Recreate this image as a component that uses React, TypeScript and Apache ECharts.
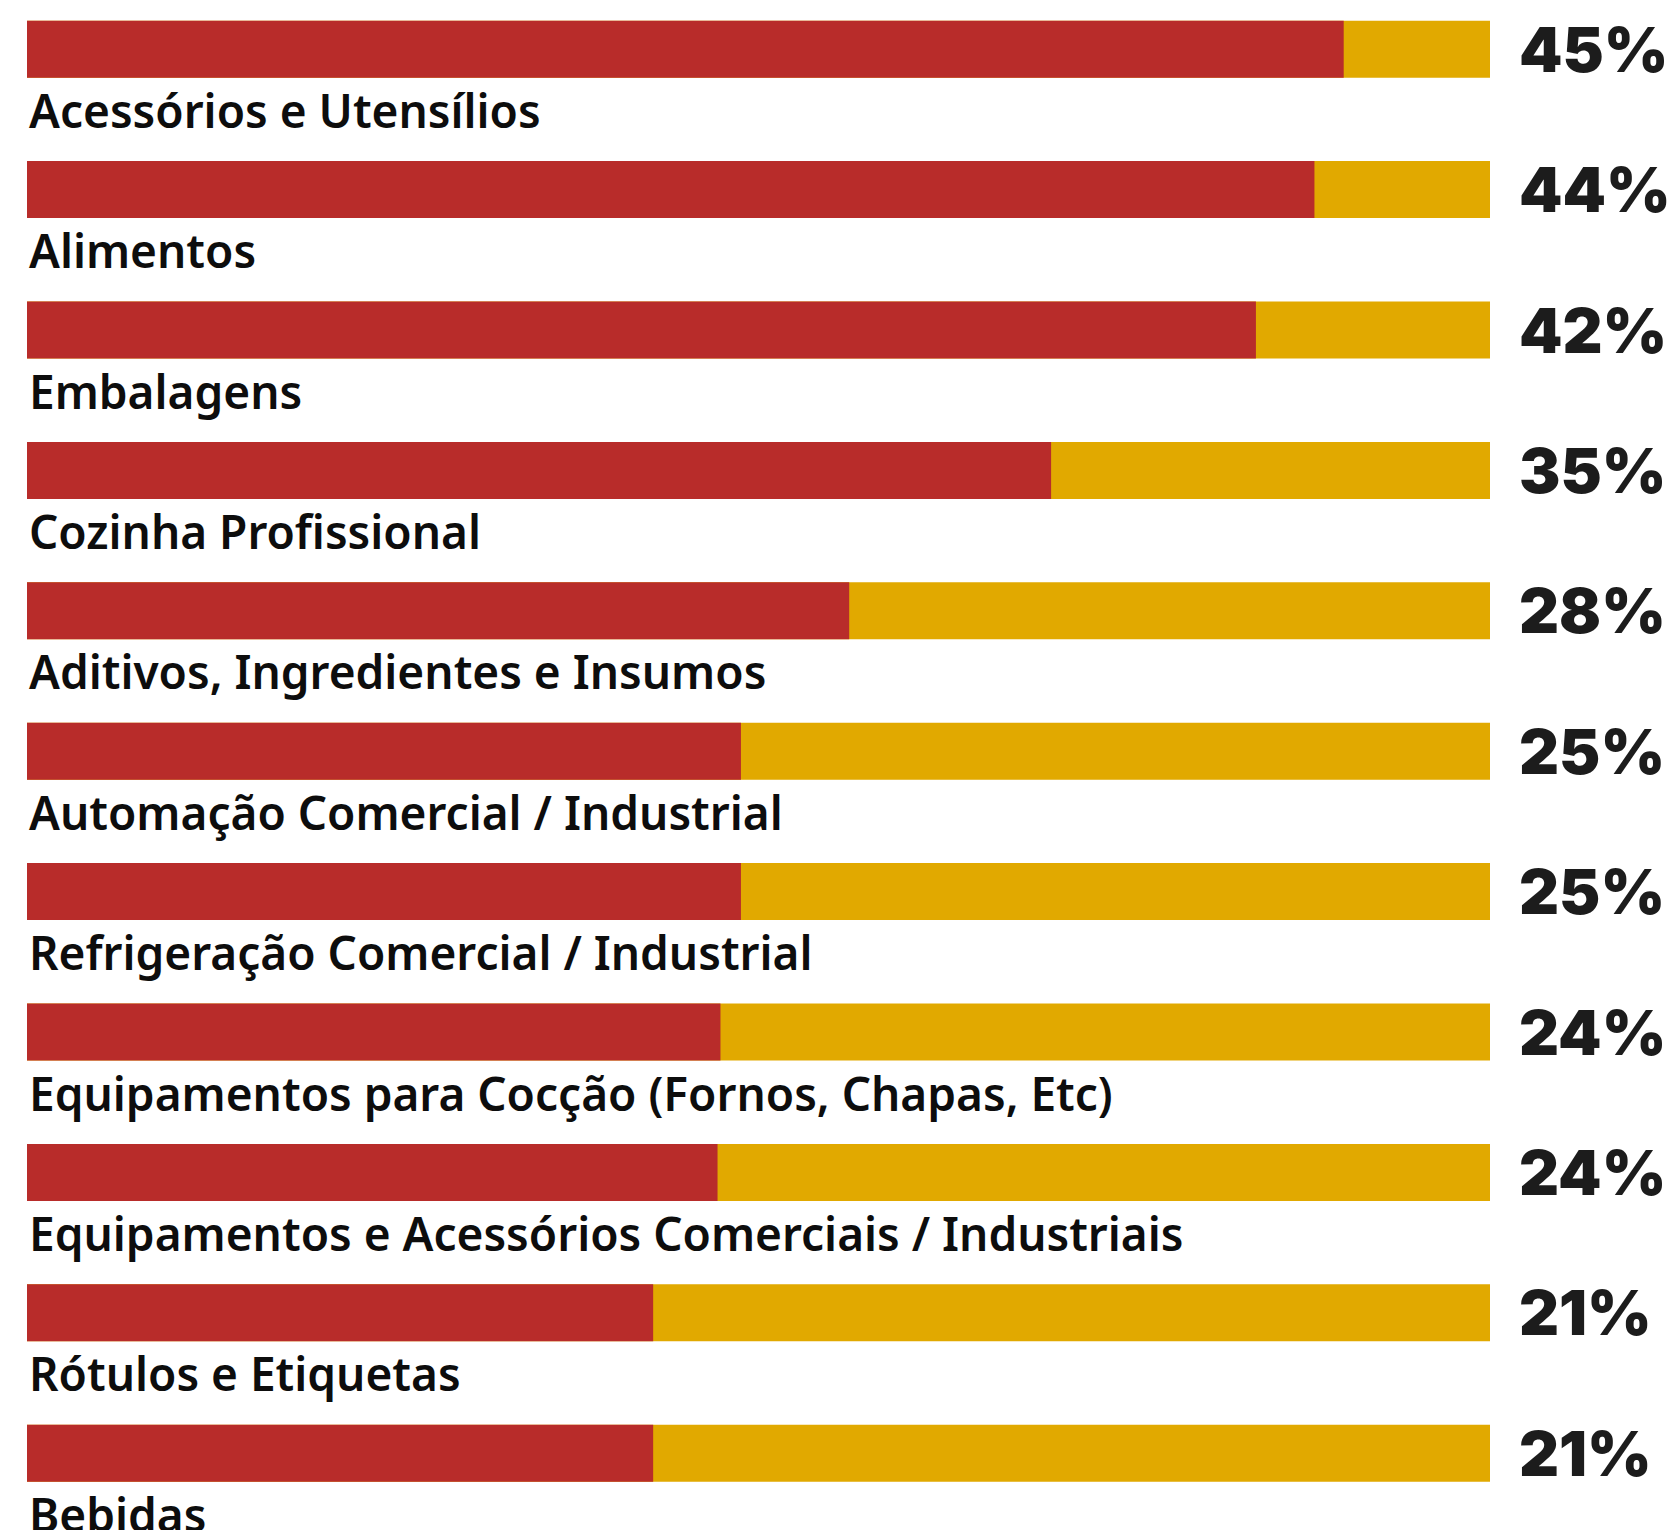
import React, { useEffect, useRef } from "react";
import * as echarts from "echarts";

const categories = [
  "Acessórios e Utensílios",
  "Alimentos",
  "Embalagens",
  "Cozinha Profissional",
  "Aditivos, Ingredientes e Insumos",
  "Automação Comercial / Industrial",
  "Refrigeração Comercial / Industrial",
  "Equipamentos para Cocção (Fornos, Chapas, Etc)",
  "Equipamentos e Acessórios Comerciais / Industriais",
  "Rótulos e Etiquetas",
  "Bebidas",
];
// bar lengths as drawn in the picture (percent)
const values = [45, 44, 42, 35, 28.1, 24.4, 24.4, 23.7, 23.6, 21.4, 21.4];
// percentage labels printed at the right
const percentLabels = ["45%", "44%", "42%", "35%", "28%", "25%", "25%", "24%", "24%", "21%", "21%"];
const axisMax = 50;

const RED = "#B82C2A";
const YELLOW = "#E1A900";

export default function App() {
  const ref = useRef<HTMLDivElement>(null);
  useEffect(() => {
    if (!ref.current) return;
    const chart = echarts.init(ref.current, undefined, { renderer: "svg" });
    chart.setOption({
      animation: false,
      backgroundColor: "#ffffff",
      grid: { left: 27, right: 190, top: 0, bottom: 20.6, containLabel: false },
      xAxis: {
        type: "value",
        min: 0,
        max: axisMax,
        show: false,
      },
      yAxis: [
        {
          type: "category",
          data: categories,
          inverse: true,
          position: "left",
          axisLine: { show: false },
          axisTick: { show: false },
          axisLabel: { show: false },
          splitLine: { show: false },
        },
        {
          type: "category",
          data: percentLabels,
          inverse: true,
          position: "right",
          axisLine: { show: false },
          axisTick: { show: false },
          splitLine: { show: false },
          axisLabel: {
            show: true,
            margin: 29,
            align: "left",
            verticalAlign: "middle",
            fontFamily: "Inter",
            fontWeight: 900,
            fontSize: 62,
            color: "#1c1c1c",
          },
        },
      ],
      series: [
        {
          type: "bar",
          yAxisIndex: 0,
          data: values,
          barWidth: 57,
          itemStyle: { color: RED },
          showBackground: true,
          backgroundStyle: { color: YELLOW, opacity: 1 },
          label: {
            show: true,
            position: [2, "100%"],
            offset: [0, 32],
            align: "left",
            verticalAlign: "middle",
            formatter: (p: any) => categories[p.dataIndex],
            fontFamily: "Noto Sans",
            fontWeight: 600,
            fontSize: 46,
            color: "#0d0d0d",
          },
        },
      ],
    });
    return () => chart.dispose();
  }, []);
  return (
    <div
      ref={ref}
      style={{ position: "absolute", left: 0, top: -21, width: 1680, height: 1565 }}
    />
  );
}
